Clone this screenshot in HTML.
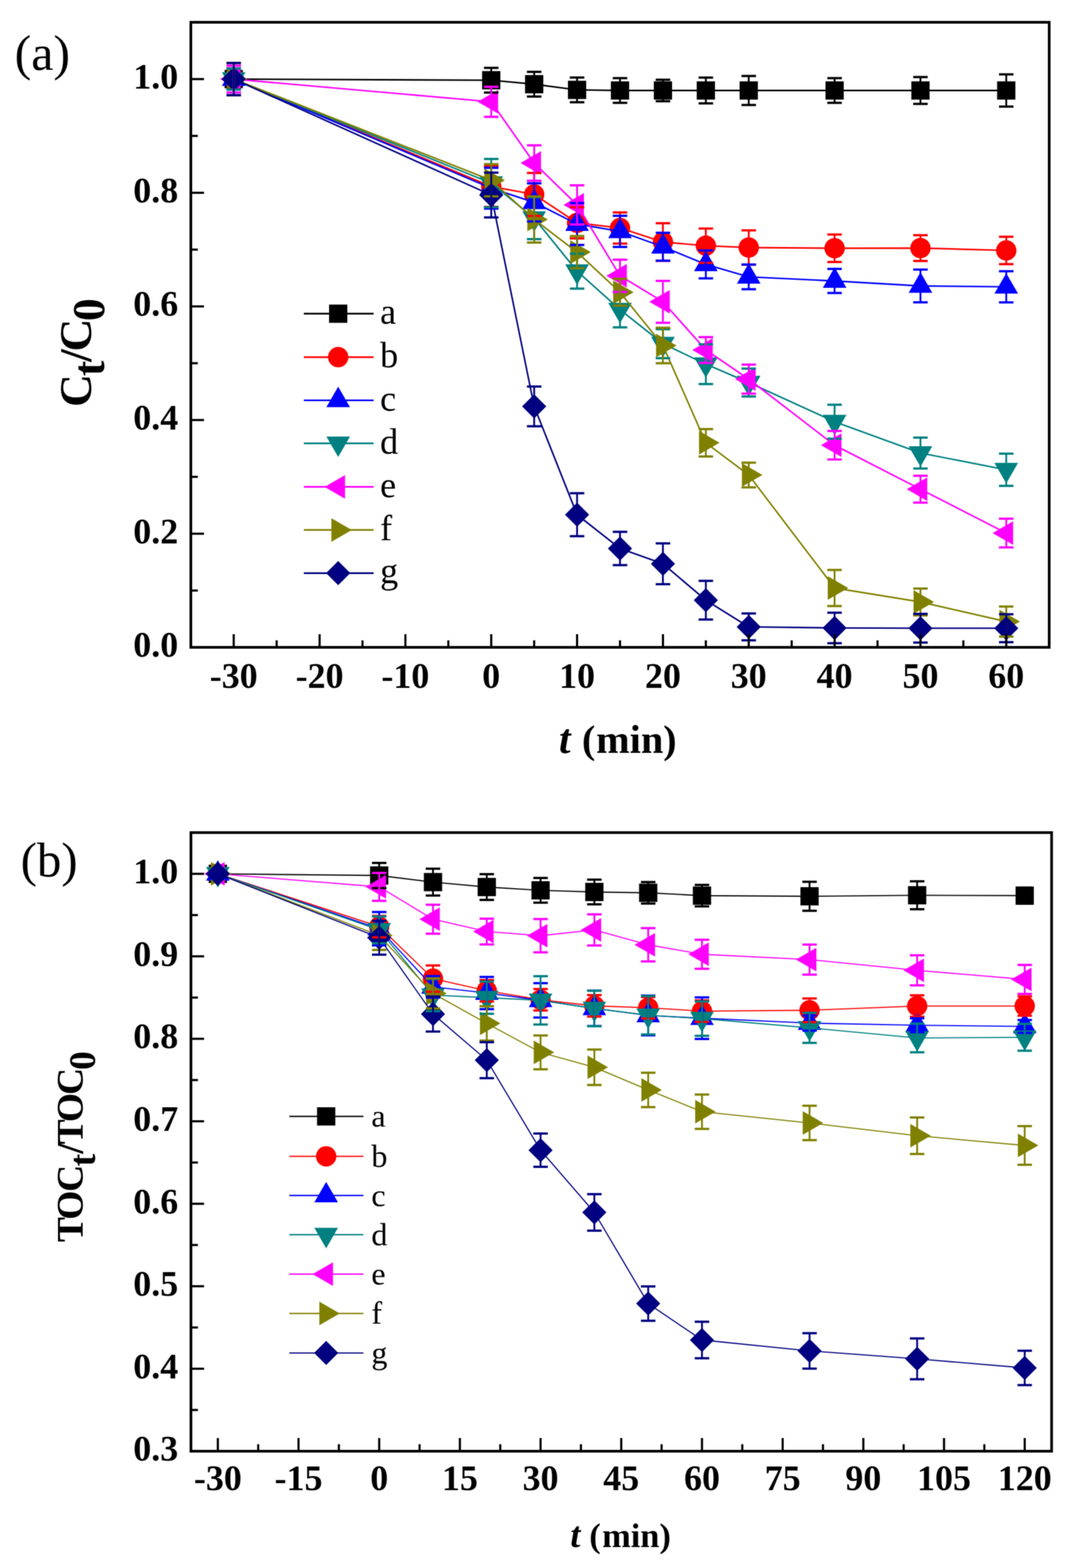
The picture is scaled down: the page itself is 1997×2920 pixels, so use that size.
<!DOCTYPE html>
<html><head><meta charset="utf-8"><title>Ct/C0 and TOCt/TOC0 vs time</title>
<style>
html,body{margin:0;padding:0;background:#fff;}
body{width:1997px;height:2920px;overflow:hidden;}
svg{display:block;}
.tk{font-family:"Liberation Serif","Times New Roman",serif;font-weight:bold;font-size:67px;fill:#000;}
.ax{font-family:"Liberation Serif","Times New Roman",serif;font-weight:bold;fill:#000;}
.lg{font-family:"Liberation Serif","Times New Roman",serif;fill:#000;}
.pl{font-family:"Liberation Serif","Times New Roman",serif;fill:#000;}
</style></head>
<body>
<svg width="1997" height="2920" viewBox="0 0 1997 2920">
<defs><filter id="soft" x="0" y="0" width="1997" height="2920" filterUnits="userSpaceOnUse" color-interpolation-filters="sRGB"><feConvolveMatrix order="3" kernelMatrix="1 2 1 2 4 2 1 2 1" divisor="16" edgeMode="duplicate"/></filter></defs>
<rect width="1997" height="2920" fill="#fff"/>
<g filter="url(#soft)">
<rect width="1997" height="2920" fill="#fff"/>
<g id="pa">
<polyline points="435.4,147.3 915.1,149.4 995.1,156.8 1075.0,167.4 1155.0,168.5 1235.0,168.5 1314.9,168.5 1394.8,168.5 1554.8,168.5 1714.7,168.5 1874.5,168.5" fill="none" stroke="#000000" stroke-width="2.9" stroke-linejoin="round"/>
<rect x="418.4" y="130.3" width="34.0" height="34.0" fill="#000000"/>
<rect x="898.1" y="132.4" width="34.0" height="34.0" fill="#000000"/>
<rect x="978.1" y="139.8" width="34.0" height="34.0" fill="#000000"/>
<rect x="1058.0" y="150.4" width="34.0" height="34.0" fill="#000000"/>
<rect x="1138.0" y="151.5" width="34.0" height="34.0" fill="#000000"/>
<rect x="1218.0" y="151.5" width="34.0" height="34.0" fill="#000000"/>
<rect x="1297.9" y="151.5" width="34.0" height="34.0" fill="#000000"/>
<rect x="1377.8" y="151.5" width="34.0" height="34.0" fill="#000000"/>
<rect x="1537.8" y="151.5" width="34.0" height="34.0" fill="#000000"/>
<rect x="1697.7" y="151.5" width="34.0" height="34.0" fill="#000000"/>
<rect x="1857.5" y="151.5" width="34.0" height="34.0" fill="#000000"/>
<polyline points="435.4,147.3 915.1,347.3 995.1,362.1 1075.0,415.0 1155.0,424.6 1235.0,450.7 1314.9,457.6 1394.8,461.0 1554.8,462.3 1714.7,462.0 1874.5,466.4" fill="none" stroke="#ff0000" stroke-width="2.9" stroke-linejoin="round"/>
<circle cx="435.4" cy="147.3" r="19.0" fill="#ff0000"/>
<circle cx="915.1" cy="347.3" r="19.0" fill="#ff0000"/>
<circle cx="995.1" cy="362.1" r="19.0" fill="#ff0000"/>
<circle cx="1075.0" cy="415.0" r="19.0" fill="#ff0000"/>
<circle cx="1155.0" cy="424.6" r="19.0" fill="#ff0000"/>
<circle cx="1235.0" cy="450.7" r="19.0" fill="#ff0000"/>
<circle cx="1314.9" cy="457.6" r="19.0" fill="#ff0000"/>
<circle cx="1394.8" cy="461.0" r="19.0" fill="#ff0000"/>
<circle cx="1554.8" cy="462.3" r="19.0" fill="#ff0000"/>
<circle cx="1714.7" cy="462.0" r="19.0" fill="#ff0000"/>
<circle cx="1874.5" cy="466.4" r="19.0" fill="#ff0000"/>
<polyline points="435.4,147.3 915.1,350.5 995.1,376.9 1075.0,417.2 1155.0,430.9 1235.0,459.5 1314.9,492.4 1394.8,515.6 1554.8,523.2 1714.7,532.5 1874.5,534.1" fill="none" stroke="#0000ff" stroke-width="2.9" stroke-linejoin="round"/>
<polygon points="435.4,121.9 413.4,160.0 457.4,160.0" fill="#0000ff"/>
<polygon points="915.1,325.1 893.1,363.2 937.1,363.2" fill="#0000ff"/>
<polygon points="995.1,351.5 973.1,389.6 1017.1,389.6" fill="#0000ff"/>
<polygon points="1075.0,391.8 1053.0,429.9 1097.0,429.9" fill="#0000ff"/>
<polygon points="1155.0,405.5 1133.0,443.6 1177.0,443.6" fill="#0000ff"/>
<polygon points="1235.0,434.1 1213.0,472.2 1257.0,472.2" fill="#0000ff"/>
<polygon points="1314.9,467.0 1292.9,505.1 1336.9,505.1" fill="#0000ff"/>
<polygon points="1394.8,490.2 1372.8,528.3 1416.8,528.3" fill="#0000ff"/>
<polygon points="1554.8,497.8 1532.8,535.9 1576.8,535.9" fill="#0000ff"/>
<polygon points="1714.7,507.1 1692.7,545.2 1736.7,545.2" fill="#0000ff"/>
<polygon points="1874.5,508.7 1852.5,546.8 1896.5,546.8" fill="#0000ff"/>
<polyline points="435.4,147.3 915.1,341.0 995.1,406.3 1075.0,505.0 1155.0,576.6 1235.0,640.0 1314.9,678.2 1394.8,712.4 1554.8,785.3 1714.7,843.7 1874.5,874.8" fill="none" stroke="#008080" stroke-width="2.9" stroke-linejoin="round"/>
<polygon points="435.4,172.7 413.4,134.6 457.4,134.6" fill="#008080"/>
<polygon points="915.1,366.4 893.1,328.3 937.1,328.3" fill="#008080"/>
<polygon points="995.1,431.7 973.1,393.6 1017.1,393.6" fill="#008080"/>
<polygon points="1075.0,530.4 1053.0,492.3 1097.0,492.3" fill="#008080"/>
<polygon points="1155.0,602.0 1133.0,563.9 1177.0,563.9" fill="#008080"/>
<polygon points="1235.0,665.4 1213.0,627.3 1257.0,627.3" fill="#008080"/>
<polygon points="1314.9,703.6 1292.9,665.5 1336.9,665.5" fill="#008080"/>
<polygon points="1394.8,737.8 1372.8,699.7 1416.8,699.7" fill="#008080"/>
<polygon points="1554.8,810.7 1532.8,772.6 1576.8,772.6" fill="#008080"/>
<polygon points="1714.7,869.1 1692.7,831.0 1736.7,831.0" fill="#008080"/>
<polygon points="1874.5,900.2 1852.5,862.1 1896.5,862.1" fill="#008080"/>
<polyline points="435.4,147.3 915.1,189.6 995.1,303.6 1075.0,381.6 1155.0,513.6 1235.0,562.1 1314.9,651.8 1394.8,706.0 1554.8,829.1 1714.7,911.0 1874.5,992.7" fill="none" stroke="#ff00ff" stroke-width="2.9" stroke-linejoin="round"/>
<polygon points="410.0,147.3 448.2,125.3 448.2,169.3" fill="#ff00ff"/>
<polygon points="889.7,189.6 927.9,167.6 927.9,211.6" fill="#ff00ff"/>
<polygon points="969.7,303.6 1007.8,281.6 1007.8,325.6" fill="#ff00ff"/>
<polygon points="1049.6,381.6 1087.8,359.6 1087.8,403.6" fill="#ff00ff"/>
<polygon points="1129.6,513.6 1167.7,491.6 1167.7,535.6" fill="#ff00ff"/>
<polygon points="1209.5,562.1 1247.7,540.1 1247.7,584.1" fill="#ff00ff"/>
<polygon points="1289.5,651.8 1327.6,629.8 1327.6,673.8" fill="#ff00ff"/>
<polygon points="1369.4,706.0 1407.6,684.0 1407.6,728.0" fill="#ff00ff"/>
<polygon points="1529.3,829.1 1567.5,807.1 1567.5,851.1" fill="#ff00ff"/>
<polygon points="1689.2,911.0 1727.4,889.0 1727.4,933.0" fill="#ff00ff"/>
<polygon points="1849.1,992.7 1887.3,970.7 1887.3,1014.7" fill="#ff00ff"/>
<polyline points="435.4,147.3 915.1,335.7 995.1,408.7 1075.0,469.6 1155.0,544.3 1235.0,643.4 1314.9,824.6 1394.8,884.6 1554.8,1095.0 1714.7,1121.0 1874.5,1157.5" fill="none" stroke="#808000" stroke-width="2.9" stroke-linejoin="round"/>
<polygon points="460.9,147.3 422.7,125.3 422.7,169.3" fill="#808000"/>
<polygon points="940.6,335.7 902.4,313.7 902.4,357.7" fill="#808000"/>
<polygon points="1020.5,408.7 982.4,386.7 982.4,430.7" fill="#808000"/>
<polygon points="1100.5,469.6 1062.3,447.6 1062.3,491.6" fill="#808000"/>
<polygon points="1180.4,544.3 1142.3,522.3 1142.3,566.3" fill="#808000"/>
<polygon points="1260.4,643.4 1222.2,621.4 1222.2,665.4" fill="#808000"/>
<polygon points="1340.3,824.6 1302.2,802.6 1302.2,846.6" fill="#808000"/>
<polygon points="1420.3,884.6 1382.1,862.6 1382.1,906.6" fill="#808000"/>
<polygon points="1580.2,1095.0 1542.0,1073.0 1542.0,1117.0" fill="#808000"/>
<polygon points="1740.1,1121.0 1701.9,1099.0 1701.9,1143.0" fill="#808000"/>
<polygon points="1900.0,1157.5 1861.8,1135.5 1861.8,1179.5" fill="#808000"/>
<polyline points="435.4,147.3 915.1,363.2 995.1,756.8 1075.0,958.5 1155.0,1021.4 1235.0,1049.9 1314.9,1117.7 1394.8,1167.4 1554.8,1169.4 1714.7,1169.9 1874.5,1169.9" fill="none" stroke="#000080" stroke-width="2.9" stroke-linejoin="round"/>
<polygon points="435.4,124.8 457.9,147.3 435.4,169.8 412.9,147.3" fill="#000080"/>
<polygon points="915.1,340.7 937.6,363.2 915.1,385.7 892.6,363.2" fill="#000080"/>
<polygon points="995.1,734.3 1017.6,756.8 995.1,779.3 972.6,756.8" fill="#000080"/>
<polygon points="1075.0,936.0 1097.5,958.5 1075.0,981.0 1052.5,958.5" fill="#000080"/>
<polygon points="1155.0,998.9 1177.5,1021.4 1155.0,1043.9 1132.5,1021.4" fill="#000080"/>
<polygon points="1235.0,1027.4 1257.5,1049.9 1235.0,1072.4 1212.5,1049.9" fill="#000080"/>
<polygon points="1314.9,1095.2 1337.4,1117.7 1314.9,1140.2 1292.4,1117.7" fill="#000080"/>
<polygon points="1394.8,1144.9 1417.3,1167.4 1394.8,1189.9 1372.3,1167.4" fill="#000080"/>
<polygon points="1554.8,1146.9 1577.2,1169.4 1554.8,1191.9 1532.2,1169.4" fill="#000080"/>
<polygon points="1714.7,1147.4 1737.2,1169.9 1714.7,1192.4 1692.2,1169.9" fill="#000080"/>
<polygon points="1874.5,1147.4 1897.0,1169.9 1874.5,1192.4 1852.0,1169.9" fill="#000080"/>
<rect x="433.8" y="127.8" width="3.4" height="39.0" fill="#000000"/><rect x="421.9" y="125.7" width="27.0" height="4.2" fill="#000000"/><rect x="421.9" y="164.7" width="27.0" height="4.2" fill="#000000"/>
<rect x="913.4" y="126.4" width="3.4" height="46.0" fill="#000000"/><rect x="901.6" y="124.3" width="27.0" height="4.2" fill="#000000"/><rect x="901.6" y="170.3" width="27.0" height="4.2" fill="#000000"/>
<rect x="993.4" y="133.8" width="3.4" height="46.0" fill="#000000"/><rect x="981.6" y="131.7" width="27.0" height="4.2" fill="#000000"/><rect x="981.6" y="177.7" width="27.0" height="4.2" fill="#000000"/>
<rect x="1073.3" y="144.4" width="3.4" height="46.0" fill="#000000"/><rect x="1061.5" y="142.3" width="27.0" height="4.2" fill="#000000"/><rect x="1061.5" y="188.3" width="27.0" height="4.2" fill="#000000"/>
<rect x="1153.3" y="145.5" width="3.4" height="46.0" fill="#000000"/><rect x="1141.5" y="143.4" width="27.0" height="4.2" fill="#000000"/><rect x="1141.5" y="189.4" width="27.0" height="4.2" fill="#000000"/>
<rect x="1233.2" y="148.5" width="3.4" height="40.0" fill="#000000"/><rect x="1221.5" y="146.4" width="27.0" height="4.2" fill="#000000"/><rect x="1221.5" y="186.4" width="27.0" height="4.2" fill="#000000"/>
<rect x="1313.2" y="144.5" width="3.4" height="48.0" fill="#000000"/><rect x="1301.4" y="142.4" width="27.0" height="4.2" fill="#000000"/><rect x="1301.4" y="190.4" width="27.0" height="4.2" fill="#000000"/>
<rect x="1393.1" y="141.5" width="3.4" height="54.0" fill="#000000"/><rect x="1381.3" y="139.4" width="27.0" height="4.2" fill="#000000"/><rect x="1381.3" y="193.4" width="27.0" height="4.2" fill="#000000"/>
<rect x="1553.0" y="145.5" width="3.4" height="46.0" fill="#000000"/><rect x="1541.2" y="143.4" width="27.0" height="4.2" fill="#000000"/><rect x="1541.2" y="189.4" width="27.0" height="4.2" fill="#000000"/>
<rect x="1713.0" y="143.5" width="3.4" height="50.0" fill="#000000"/><rect x="1701.2" y="141.4" width="27.0" height="4.2" fill="#000000"/><rect x="1701.2" y="191.4" width="27.0" height="4.2" fill="#000000"/>
<rect x="1872.8" y="138.5" width="3.4" height="60.0" fill="#000000"/><rect x="1861.0" y="136.4" width="27.0" height="4.2" fill="#000000"/><rect x="1861.0" y="196.4" width="27.0" height="4.2" fill="#000000"/>
<rect x="433.8" y="127.8" width="3.4" height="39.0" fill="#ff0000"/><rect x="421.9" y="125.7" width="27.0" height="4.2" fill="#ff0000"/><rect x="421.9" y="164.7" width="27.0" height="4.2" fill="#ff0000"/>
<rect x="913.4" y="309.3" width="3.4" height="76.0" fill="#ff0000"/><rect x="901.6" y="307.2" width="27.0" height="4.2" fill="#ff0000"/><rect x="901.6" y="383.2" width="27.0" height="4.2" fill="#ff0000"/>
<rect x="993.4" y="322.1" width="3.4" height="80.0" fill="#ff0000"/><rect x="981.6" y="320.0" width="27.0" height="4.2" fill="#ff0000"/><rect x="981.6" y="400.0" width="27.0" height="4.2" fill="#ff0000"/>
<rect x="1073.3" y="386.0" width="3.4" height="58.0" fill="#ff0000"/><rect x="1061.5" y="383.9" width="27.0" height="4.2" fill="#ff0000"/><rect x="1061.5" y="441.9" width="27.0" height="4.2" fill="#ff0000"/>
<rect x="1153.3" y="395.6" width="3.4" height="58.0" fill="#ff0000"/><rect x="1141.5" y="393.5" width="27.0" height="4.2" fill="#ff0000"/><rect x="1141.5" y="451.5" width="27.0" height="4.2" fill="#ff0000"/>
<rect x="1233.2" y="415.7" width="3.4" height="70.0" fill="#ff0000"/><rect x="1221.5" y="413.6" width="27.0" height="4.2" fill="#ff0000"/><rect x="1221.5" y="483.6" width="27.0" height="4.2" fill="#ff0000"/>
<rect x="1313.2" y="425.6" width="3.4" height="64.0" fill="#ff0000"/><rect x="1301.4" y="423.5" width="27.0" height="4.2" fill="#ff0000"/><rect x="1301.4" y="487.5" width="27.0" height="4.2" fill="#ff0000"/>
<rect x="1393.1" y="429.0" width="3.4" height="64.0" fill="#ff0000"/><rect x="1381.3" y="426.9" width="27.0" height="4.2" fill="#ff0000"/><rect x="1381.3" y="490.9" width="27.0" height="4.2" fill="#ff0000"/>
<rect x="1553.0" y="436.7" width="3.4" height="51.2" fill="#ff0000"/><rect x="1541.2" y="434.6" width="27.0" height="4.2" fill="#ff0000"/><rect x="1541.2" y="485.8" width="27.0" height="4.2" fill="#ff0000"/>
<rect x="1713.0" y="438.0" width="3.4" height="48.0" fill="#ff0000"/><rect x="1701.2" y="435.9" width="27.0" height="4.2" fill="#ff0000"/><rect x="1701.2" y="483.9" width="27.0" height="4.2" fill="#ff0000"/>
<rect x="1872.8" y="440.9" width="3.4" height="51.0" fill="#ff0000"/><rect x="1861.0" y="438.8" width="27.0" height="4.2" fill="#ff0000"/><rect x="1861.0" y="489.8" width="27.0" height="4.2" fill="#ff0000"/>
<rect x="433.8" y="127.8" width="3.4" height="39.0" fill="#0000ff"/><rect x="421.9" y="125.7" width="27.0" height="4.2" fill="#0000ff"/><rect x="421.9" y="164.7" width="27.0" height="4.2" fill="#0000ff"/>
<rect x="913.4" y="312.5" width="3.4" height="76.0" fill="#0000ff"/><rect x="901.6" y="310.4" width="27.0" height="4.2" fill="#0000ff"/><rect x="901.6" y="386.4" width="27.0" height="4.2" fill="#0000ff"/>
<rect x="993.4" y="341.4" width="3.4" height="71.0" fill="#0000ff"/><rect x="981.6" y="339.3" width="27.0" height="4.2" fill="#0000ff"/><rect x="981.6" y="410.3" width="27.0" height="4.2" fill="#0000ff"/>
<rect x="1073.3" y="378.2" width="3.4" height="78.0" fill="#0000ff"/><rect x="1061.5" y="376.1" width="27.0" height="4.2" fill="#0000ff"/><rect x="1061.5" y="454.1" width="27.0" height="4.2" fill="#0000ff"/>
<rect x="1153.3" y="401.9" width="3.4" height="58.0" fill="#0000ff"/><rect x="1141.5" y="399.8" width="27.0" height="4.2" fill="#0000ff"/><rect x="1141.5" y="457.8" width="27.0" height="4.2" fill="#0000ff"/>
<rect x="1233.2" y="433.5" width="3.4" height="52.0" fill="#0000ff"/><rect x="1221.5" y="431.4" width="27.0" height="4.2" fill="#0000ff"/><rect x="1221.5" y="483.4" width="27.0" height="4.2" fill="#0000ff"/>
<rect x="1313.2" y="466.4" width="3.4" height="52.0" fill="#0000ff"/><rect x="1301.4" y="464.3" width="27.0" height="4.2" fill="#0000ff"/><rect x="1301.4" y="516.3" width="27.0" height="4.2" fill="#0000ff"/>
<rect x="1393.1" y="492.6" width="3.4" height="46.0" fill="#0000ff"/><rect x="1381.3" y="490.5" width="27.0" height="4.2" fill="#0000ff"/><rect x="1381.3" y="536.5" width="27.0" height="4.2" fill="#0000ff"/>
<rect x="1553.0" y="500.8" width="3.4" height="44.8" fill="#0000ff"/><rect x="1541.2" y="498.7" width="27.0" height="4.2" fill="#0000ff"/><rect x="1541.2" y="543.5" width="27.0" height="4.2" fill="#0000ff"/>
<rect x="1713.0" y="502.0" width="3.4" height="61.0" fill="#0000ff"/><rect x="1701.2" y="499.9" width="27.0" height="4.2" fill="#0000ff"/><rect x="1701.2" y="560.9" width="27.0" height="4.2" fill="#0000ff"/>
<rect x="1872.8" y="505.1" width="3.4" height="58.0" fill="#0000ff"/><rect x="1861.0" y="503.0" width="27.0" height="4.2" fill="#0000ff"/><rect x="1861.0" y="561.0" width="27.0" height="4.2" fill="#0000ff"/>
<rect x="433.8" y="127.8" width="3.4" height="39.0" fill="#008080"/><rect x="421.9" y="125.7" width="27.0" height="4.2" fill="#008080"/><rect x="421.9" y="164.7" width="27.0" height="4.2" fill="#008080"/>
<rect x="913.4" y="296.0" width="3.4" height="90.0" fill="#008080"/><rect x="901.6" y="293.9" width="27.0" height="4.2" fill="#008080"/><rect x="901.6" y="383.9" width="27.0" height="4.2" fill="#008080"/>
<rect x="993.4" y="367.3" width="3.4" height="78.0" fill="#008080"/><rect x="981.6" y="365.2" width="27.0" height="4.2" fill="#008080"/><rect x="981.6" y="443.2" width="27.0" height="4.2" fill="#008080"/>
<rect x="1073.3" y="472.5" width="3.4" height="65.0" fill="#008080"/><rect x="1061.5" y="470.4" width="27.0" height="4.2" fill="#008080"/><rect x="1061.5" y="535.4" width="27.0" height="4.2" fill="#008080"/>
<rect x="1153.3" y="543.6" width="3.4" height="66.0" fill="#008080"/><rect x="1141.5" y="541.5" width="27.0" height="4.2" fill="#008080"/><rect x="1141.5" y="607.5" width="27.0" height="4.2" fill="#008080"/>
<rect x="1233.2" y="613.0" width="3.4" height="54.0" fill="#008080"/><rect x="1221.5" y="610.9" width="27.0" height="4.2" fill="#008080"/><rect x="1221.5" y="664.9" width="27.0" height="4.2" fill="#008080"/>
<rect x="1313.2" y="641.2" width="3.4" height="74.0" fill="#008080"/><rect x="1301.4" y="639.1" width="27.0" height="4.2" fill="#008080"/><rect x="1301.4" y="713.1" width="27.0" height="4.2" fill="#008080"/>
<rect x="1393.1" y="686.4" width="3.4" height="52.0" fill="#008080"/><rect x="1381.3" y="684.3" width="27.0" height="4.2" fill="#008080"/><rect x="1381.3" y="736.3" width="27.0" height="4.2" fill="#008080"/>
<rect x="1553.0" y="753.7" width="3.4" height="63.2" fill="#008080"/><rect x="1541.2" y="751.6" width="27.0" height="4.2" fill="#008080"/><rect x="1541.2" y="814.8" width="27.0" height="4.2" fill="#008080"/>
<rect x="1713.0" y="814.9" width="3.4" height="57.6" fill="#008080"/><rect x="1701.2" y="812.8" width="27.0" height="4.2" fill="#008080"/><rect x="1701.2" y="870.4" width="27.0" height="4.2" fill="#008080"/>
<rect x="1872.8" y="844.8" width="3.4" height="60.0" fill="#008080"/><rect x="1861.0" y="842.7" width="27.0" height="4.2" fill="#008080"/><rect x="1861.0" y="902.7" width="27.0" height="4.2" fill="#008080"/>
<rect x="433.8" y="122.3" width="3.4" height="50.0" fill="#ff00ff"/><rect x="421.9" y="120.2" width="27.0" height="4.2" fill="#ff00ff"/><rect x="421.9" y="170.2" width="27.0" height="4.2" fill="#ff00ff"/>
<rect x="913.4" y="161.6" width="3.4" height="56.0" fill="#ff00ff"/><rect x="901.6" y="159.5" width="27.0" height="4.2" fill="#ff00ff"/><rect x="901.6" y="215.5" width="27.0" height="4.2" fill="#ff00ff"/>
<rect x="993.4" y="270.6" width="3.4" height="66.0" fill="#ff00ff"/><rect x="981.6" y="268.5" width="27.0" height="4.2" fill="#ff00ff"/><rect x="981.6" y="334.5" width="27.0" height="4.2" fill="#ff00ff"/>
<rect x="1073.3" y="345.1" width="3.4" height="73.0" fill="#ff00ff"/><rect x="1061.5" y="343.0" width="27.0" height="4.2" fill="#ff00ff"/><rect x="1061.5" y="416.0" width="27.0" height="4.2" fill="#ff00ff"/>
<rect x="1153.3" y="483.6" width="3.4" height="60.0" fill="#ff00ff"/><rect x="1141.5" y="481.5" width="27.0" height="4.2" fill="#ff00ff"/><rect x="1141.5" y="541.5" width="27.0" height="4.2" fill="#ff00ff"/>
<rect x="1233.2" y="523.1" width="3.4" height="78.0" fill="#ff00ff"/><rect x="1221.5" y="521.0" width="27.0" height="4.2" fill="#ff00ff"/><rect x="1221.5" y="599.0" width="27.0" height="4.2" fill="#ff00ff"/>
<rect x="1313.2" y="627.8" width="3.4" height="48.0" fill="#ff00ff"/><rect x="1301.4" y="625.7" width="27.0" height="4.2" fill="#ff00ff"/><rect x="1301.4" y="673.7" width="27.0" height="4.2" fill="#ff00ff"/>
<rect x="1393.1" y="679.0" width="3.4" height="54.0" fill="#ff00ff"/><rect x="1381.3" y="676.9" width="27.0" height="4.2" fill="#ff00ff"/><rect x="1381.3" y="730.9" width="27.0" height="4.2" fill="#ff00ff"/>
<rect x="1553.0" y="802.6" width="3.4" height="53.0" fill="#ff00ff"/><rect x="1541.2" y="800.5" width="27.0" height="4.2" fill="#ff00ff"/><rect x="1541.2" y="853.5" width="27.0" height="4.2" fill="#ff00ff"/>
<rect x="1713.0" y="886.0" width="3.4" height="50.0" fill="#ff00ff"/><rect x="1701.2" y="883.9" width="27.0" height="4.2" fill="#ff00ff"/><rect x="1701.2" y="933.9" width="27.0" height="4.2" fill="#ff00ff"/>
<rect x="1872.8" y="966.0" width="3.4" height="53.4" fill="#ff00ff"/><rect x="1861.0" y="963.9" width="27.0" height="4.2" fill="#ff00ff"/><rect x="1861.0" y="1017.3" width="27.0" height="4.2" fill="#ff00ff"/>
<rect x="433.8" y="117.3" width="3.4" height="60.0" fill="#808000"/><rect x="421.9" y="115.2" width="27.0" height="4.2" fill="#808000"/><rect x="421.9" y="175.2" width="27.0" height="4.2" fill="#808000"/>
<rect x="913.4" y="305.7" width="3.4" height="60.0" fill="#808000"/><rect x="901.6" y="303.6" width="27.0" height="4.2" fill="#808000"/><rect x="901.6" y="363.6" width="27.0" height="4.2" fill="#808000"/>
<rect x="993.4" y="365.7" width="3.4" height="86.0" fill="#808000"/><rect x="981.6" y="363.6" width="27.0" height="4.2" fill="#808000"/><rect x="981.6" y="449.6" width="27.0" height="4.2" fill="#808000"/>
<rect x="1073.3" y="439.6" width="3.4" height="60.0" fill="#808000"/><rect x="1061.5" y="437.5" width="27.0" height="4.2" fill="#808000"/><rect x="1061.5" y="497.5" width="27.0" height="4.2" fill="#808000"/>
<rect x="1153.3" y="519.3" width="3.4" height="50.0" fill="#808000"/><rect x="1141.5" y="517.2" width="27.0" height="4.2" fill="#808000"/><rect x="1141.5" y="567.2" width="27.0" height="4.2" fill="#808000"/>
<rect x="1233.2" y="610.4" width="3.4" height="66.0" fill="#808000"/><rect x="1221.5" y="608.3" width="27.0" height="4.2" fill="#808000"/><rect x="1221.5" y="674.3" width="27.0" height="4.2" fill="#808000"/>
<rect x="1313.2" y="799.1" width="3.4" height="51.0" fill="#808000"/><rect x="1301.4" y="797.0" width="27.0" height="4.2" fill="#808000"/><rect x="1301.4" y="848.0" width="27.0" height="4.2" fill="#808000"/>
<rect x="1393.1" y="861.6" width="3.4" height="46.0" fill="#808000"/><rect x="1381.3" y="859.5" width="27.0" height="4.2" fill="#808000"/><rect x="1381.3" y="905.5" width="27.0" height="4.2" fill="#808000"/>
<rect x="1553.0" y="1061.4" width="3.4" height="67.2" fill="#808000"/><rect x="1541.2" y="1059.3" width="27.0" height="4.2" fill="#808000"/><rect x="1541.2" y="1126.5" width="27.0" height="4.2" fill="#808000"/>
<rect x="1713.0" y="1096.0" width="3.4" height="50.0" fill="#808000"/><rect x="1701.2" y="1093.9" width="27.0" height="4.2" fill="#808000"/><rect x="1701.2" y="1143.9" width="27.0" height="4.2" fill="#808000"/>
<rect x="1872.8" y="1129.5" width="3.4" height="56.0" fill="#808000"/><rect x="1861.0" y="1127.4" width="27.0" height="4.2" fill="#808000"/><rect x="1861.0" y="1183.4" width="27.0" height="4.2" fill="#808000"/>
<rect x="433.8" y="117.3" width="3.4" height="60.0" fill="#000080"/><rect x="421.9" y="115.2" width="27.0" height="4.2" fill="#000080"/><rect x="421.9" y="175.2" width="27.0" height="4.2" fill="#000080"/>
<rect x="913.4" y="321.5" width="3.4" height="83.4" fill="#000080"/><rect x="901.6" y="319.4" width="27.0" height="4.2" fill="#000080"/><rect x="901.6" y="402.8" width="27.0" height="4.2" fill="#000080"/>
<rect x="993.4" y="719.8" width="3.4" height="74.0" fill="#000080"/><rect x="981.6" y="717.7" width="27.0" height="4.2" fill="#000080"/><rect x="981.6" y="791.7" width="27.0" height="4.2" fill="#000080"/>
<rect x="1073.3" y="918.5" width="3.4" height="80.0" fill="#000080"/><rect x="1061.5" y="916.4" width="27.0" height="4.2" fill="#000080"/><rect x="1061.5" y="996.4" width="27.0" height="4.2" fill="#000080"/>
<rect x="1153.3" y="990.4" width="3.4" height="62.0" fill="#000080"/><rect x="1141.5" y="988.3" width="27.0" height="4.2" fill="#000080"/><rect x="1141.5" y="1050.3" width="27.0" height="4.2" fill="#000080"/>
<rect x="1233.2" y="1011.9" width="3.4" height="76.0" fill="#000080"/><rect x="1221.5" y="1009.8" width="27.0" height="4.2" fill="#000080"/><rect x="1221.5" y="1085.8" width="27.0" height="4.2" fill="#000080"/>
<rect x="1313.2" y="1081.7" width="3.4" height="72.0" fill="#000080"/><rect x="1301.4" y="1079.6" width="27.0" height="4.2" fill="#000080"/><rect x="1301.4" y="1151.6" width="27.0" height="4.2" fill="#000080"/>
<rect x="1393.1" y="1142.4" width="3.4" height="50.0" fill="#000080"/><rect x="1381.3" y="1140.3" width="27.0" height="4.2" fill="#000080"/><rect x="1381.3" y="1190.3" width="27.0" height="4.2" fill="#000080"/>
<rect x="1553.0" y="1141.0" width="3.4" height="56.8" fill="#000080"/><rect x="1541.2" y="1138.9" width="27.0" height="4.2" fill="#000080"/><rect x="1541.2" y="1195.7" width="27.0" height="4.2" fill="#000080"/>
<rect x="1713.0" y="1143.2" width="3.4" height="53.4" fill="#000080"/><rect x="1701.2" y="1141.1" width="27.0" height="4.2" fill="#000080"/><rect x="1701.2" y="1194.5" width="27.0" height="4.2" fill="#000080"/>
<rect x="1872.8" y="1143.9" width="3.4" height="52.0" fill="#000080"/><rect x="1861.0" y="1141.8" width="27.0" height="4.2" fill="#000080"/><rect x="1861.0" y="1193.8" width="27.0" height="4.2" fill="#000080"/>
<rect x="355.5" y="41.5" width="1599.0" height="1164.0" fill="none" stroke="#000" stroke-width="5.0"/>
<rect x="433.4" y="1181.0" width="4.0" height="24.5" fill="#000"/><rect x="593.4" y="1181.0" width="4.0" height="24.5" fill="#000"/><rect x="753.2" y="1181.0" width="4.0" height="24.5" fill="#000"/><rect x="913.1" y="1181.0" width="4.0" height="24.5" fill="#000"/><rect x="1073.0" y="1181.0" width="4.0" height="24.5" fill="#000"/><rect x="1233.0" y="1181.0" width="4.0" height="24.5" fill="#000"/><rect x="1392.8" y="1181.0" width="4.0" height="24.5" fill="#000"/><rect x="1552.8" y="1181.0" width="4.0" height="24.5" fill="#000"/><rect x="1712.7" y="1181.0" width="4.0" height="24.5" fill="#000"/><rect x="1872.5" y="1181.0" width="4.0" height="24.5" fill="#000"/><rect x="513.4" y="1192.5" width="4.0" height="13" fill="#000"/><rect x="673.3" y="1192.5" width="4.0" height="13" fill="#000"/><rect x="833.2" y="1192.5" width="4.0" height="13" fill="#000"/><rect x="993.1" y="1192.5" width="4.0" height="13" fill="#000"/><rect x="1153.0" y="1192.5" width="4.0" height="13" fill="#000"/><rect x="1312.9" y="1192.5" width="4.0" height="13" fill="#000"/><rect x="1472.8" y="1192.5" width="4.0" height="13" fill="#000"/><rect x="1632.7" y="1192.5" width="4.0" height="13" fill="#000"/><rect x="1792.6" y="1192.5" width="4.0" height="13" fill="#000"/>
<rect x="355.5" y="1203.5" width="24.5" height="4.0" fill="#000"/><rect x="355.5" y="991.9" width="24.5" height="4.0" fill="#000"/><rect x="355.5" y="780.2" width="24.5" height="4.0" fill="#000"/><rect x="355.5" y="568.6" width="24.5" height="4.0" fill="#000"/><rect x="355.5" y="357.0" width="24.5" height="4.0" fill="#000"/><rect x="355.5" y="145.3" width="24.5" height="4.0" fill="#000"/><rect x="355.5" y="1097.7" width="13" height="4.0" fill="#000"/><rect x="355.5" y="886.0" width="13" height="4.0" fill="#000"/><rect x="355.5" y="674.4" width="13" height="4.0" fill="#000"/><rect x="355.5" y="462.8" width="13" height="4.0" fill="#000"/><rect x="355.5" y="251.1" width="13" height="4.0" fill="#000"/>
<text x="435.4" y="1280.7" class="tk" text-anchor="middle">-30</text>
<text x="595.4" y="1280.7" class="tk" text-anchor="middle">-20</text>
<text x="755.2" y="1280.7" class="tk" text-anchor="middle">-10</text>
<text x="915.1" y="1280.7" class="tk" text-anchor="middle">0</text>
<text x="1075.0" y="1280.7" class="tk" text-anchor="middle">10</text>
<text x="1235.0" y="1280.7" class="tk" text-anchor="middle">20</text>
<text x="1394.8" y="1280.7" class="tk" text-anchor="middle">30</text>
<text x="1554.8" y="1280.7" class="tk" text-anchor="middle">40</text>
<text x="1714.7" y="1280.7" class="tk" text-anchor="middle">50</text>
<text x="1874.5" y="1280.7" class="tk" text-anchor="middle">60</text>
<text x="332" y="1223.1" class="tk" text-anchor="end">0.0</text>
<text x="332" y="1011.5" class="tk" text-anchor="end">0.2</text>
<text x="332" y="799.8" class="tk" text-anchor="end">0.4</text>
<text x="332" y="588.2" class="tk" text-anchor="end">0.6</text>
<text x="332" y="376.6" class="tk" text-anchor="end">0.8</text>
<text x="332" y="164.9" class="tk" text-anchor="end">1.0</text>
<line x1="566" y1="584.2" x2="696" y2="584.2" stroke="#000000" stroke-width="3.2"/>
<rect x="613.0" y="567.2" width="34.0" height="34.0" fill="#000000"/>
<text x="708" y="603.2" class="lg" font-size="67.5">a</text>
<line x1="566" y1="665.1" x2="696" y2="665.1" stroke="#ff0000" stroke-width="3.2"/>
<circle cx="630.0" cy="665.1" r="19.0" fill="#ff0000"/>
<text x="708" y="684.1" class="lg" font-size="67.5">b</text>
<line x1="566" y1="745.5" x2="696" y2="745.5" stroke="#0000ff" stroke-width="3.2"/>
<polygon points="630.0,720.1 608.0,758.2 652.0,758.2" fill="#0000ff"/>
<text x="708" y="764.5" class="lg" font-size="67.5">c</text>
<line x1="566" y1="825.7" x2="696" y2="825.7" stroke="#008080" stroke-width="3.2"/>
<polygon points="630.0,851.1 608.0,813.0 652.0,813.0" fill="#008080"/>
<text x="708" y="844.7" class="lg" font-size="67.5">d</text>
<line x1="566" y1="906.7" x2="696" y2="906.7" stroke="#ff00ff" stroke-width="3.2"/>
<polygon points="604.6,906.7 642.7,884.7 642.7,928.7" fill="#ff00ff"/>
<text x="708" y="925.7" class="lg" font-size="67.5">e</text>
<line x1="566" y1="986.9" x2="696" y2="986.9" stroke="#808000" stroke-width="3.2"/>
<polygon points="655.4,986.9 617.3,964.9 617.3,1008.9" fill="#808000"/>
<text x="708" y="1005.9" class="lg" font-size="67.5">f</text>
<line x1="566" y1="1067.3" x2="696" y2="1067.3" stroke="#000080" stroke-width="3.2"/>
<polygon points="630.0,1044.8 652.5,1067.3 630.0,1089.8 607.5,1067.3" fill="#000080"/>
<text x="708" y="1086.3" class="lg" font-size="67.5">g</text>
<text x="27.2" y="129.7" class="pl" font-size="93">(a)</text>
<text y="1402.4" class="ax" font-size="75"><tspan x="1041.2" font-style="italic" font-size="78">t</tspan> <tspan x="1084.1">(</tspan><tspan x="1110.6">min)</tspan></text>
<text transform="rotate(-90)" class="ax" font-size="85"><tspan x="-758.0" y="169.6">C</tspan><tspan x="-700.2" y="193.7">t</tspan><tspan x="-673.9" y="169.6">/</tspan><tspan x="-654.8" y="169.6">C</tspan><tspan x="-598.1" y="193.7">0</tspan></text>
</g>
<g id="pb">
<polyline points="405.8,1627.3 706.4,1630.4 806.6,1642.7 906.8,1651.9 1007.0,1658.0 1107.2,1661.1 1207.5,1662.6 1307.7,1667.9 1508.1,1669.1 1708.5,1667.2 1908.9,1667.9" fill="none" stroke="#000000" stroke-width="2.1" stroke-linejoin="round"/>
<rect x="388.8" y="1610.3" width="34.0" height="34.0" fill="#000000"/>
<rect x="689.4" y="1613.4" width="34.0" height="34.0" fill="#000000"/>
<rect x="789.6" y="1625.7" width="34.0" height="34.0" fill="#000000"/>
<rect x="889.8" y="1634.9" width="34.0" height="34.0" fill="#000000"/>
<rect x="990.0" y="1641.0" width="34.0" height="34.0" fill="#000000"/>
<rect x="1090.2" y="1644.1" width="34.0" height="34.0" fill="#000000"/>
<rect x="1190.5" y="1645.6" width="34.0" height="34.0" fill="#000000"/>
<rect x="1290.7" y="1650.9" width="34.0" height="34.0" fill="#000000"/>
<rect x="1491.1" y="1652.1" width="34.0" height="34.0" fill="#000000"/>
<rect x="1691.5" y="1650.2" width="34.0" height="34.0" fill="#000000"/>
<rect x="1891.9" y="1650.9" width="34.0" height="34.0" fill="#000000"/>
<polyline points="405.8,1627.3 706.4,1725.6 806.6,1822.4 906.8,1845.0 1007.0,1861.8 1107.2,1873.1 1207.5,1876.7 1307.7,1883.0 1508.1,1881.4 1708.5,1873.5 1908.9,1873.5" fill="none" stroke="#ff0000" stroke-width="2.1" stroke-linejoin="round"/>
<circle cx="405.8" cy="1627.3" r="19.0" fill="#ff0000"/>
<circle cx="706.4" cy="1725.6" r="19.0" fill="#ff0000"/>
<circle cx="806.6" cy="1822.4" r="19.0" fill="#ff0000"/>
<circle cx="906.8" cy="1845.0" r="19.0" fill="#ff0000"/>
<circle cx="1007.0" cy="1861.8" r="19.0" fill="#ff0000"/>
<circle cx="1107.2" cy="1873.1" r="19.0" fill="#ff0000"/>
<circle cx="1207.5" cy="1876.7" r="19.0" fill="#ff0000"/>
<circle cx="1307.7" cy="1883.0" r="19.0" fill="#ff0000"/>
<circle cx="1508.1" cy="1881.4" r="19.0" fill="#ff0000"/>
<circle cx="1708.5" cy="1873.5" r="19.0" fill="#ff0000"/>
<circle cx="1908.9" cy="1873.5" r="19.0" fill="#ff0000"/>
<polyline points="405.8,1627.3 706.4,1729.4 806.6,1837.7 906.8,1849.3 1007.0,1862.9 1107.2,1877.7 1207.5,1891.0 1307.7,1896.1 1508.1,1905.3 1708.5,1909.2 1908.9,1911.5" fill="none" stroke="#0000ff" stroke-width="2.1" stroke-linejoin="round"/>
<polygon points="405.8,1601.9 383.8,1640.0 427.8,1640.0" fill="#0000ff"/>
<polygon points="706.4,1704.0 684.4,1742.1 728.4,1742.1" fill="#0000ff"/>
<polygon points="806.6,1812.3 784.6,1850.4 828.6,1850.4" fill="#0000ff"/>
<polygon points="906.8,1823.8 884.8,1862.0 928.8,1862.0" fill="#0000ff"/>
<polygon points="1007.0,1837.5 985.0,1875.6 1029.0,1875.6" fill="#0000ff"/>
<polygon points="1107.2,1852.3 1085.2,1890.4 1129.2,1890.4" fill="#0000ff"/>
<polygon points="1207.5,1865.6 1185.5,1903.7 1229.5,1903.7" fill="#0000ff"/>
<polygon points="1307.7,1870.7 1285.7,1908.8 1329.7,1908.8" fill="#0000ff"/>
<polygon points="1508.1,1879.9 1486.1,1918.0 1530.1,1918.0" fill="#0000ff"/>
<polygon points="1708.5,1883.8 1686.5,1921.9 1730.5,1921.9" fill="#0000ff"/>
<polygon points="1908.9,1886.1 1886.9,1924.2 1930.9,1924.2" fill="#0000ff"/>
<polyline points="405.8,1627.3 706.4,1731.7 806.6,1853.1 906.8,1857.9 1007.0,1862.9 1107.2,1878.1 1207.5,1890.6 1307.7,1896.9 1508.1,1914.1 1708.5,1933.0 1908.9,1931.7" fill="none" stroke="#008080" stroke-width="2.1" stroke-linejoin="round"/>
<polygon points="405.8,1652.7 383.8,1614.6 427.8,1614.6" fill="#008080"/>
<polygon points="706.4,1757.2 684.4,1719.0 728.4,1719.0" fill="#008080"/>
<polygon points="806.6,1878.5 784.6,1840.4 828.6,1840.4" fill="#008080"/>
<polygon points="906.8,1883.3 884.8,1845.2 928.8,1845.2" fill="#008080"/>
<polygon points="1007.0,1888.3 985.0,1850.2 1029.0,1850.2" fill="#008080"/>
<polygon points="1107.2,1903.5 1085.2,1865.4 1129.2,1865.4" fill="#008080"/>
<polygon points="1207.5,1916.0 1185.5,1877.9 1229.5,1877.9" fill="#008080"/>
<polygon points="1307.7,1922.3 1285.7,1884.2 1329.7,1884.2" fill="#008080"/>
<polygon points="1508.1,1939.5 1486.1,1901.4 1530.1,1901.4" fill="#008080"/>
<polygon points="1708.5,1958.4 1686.5,1920.3 1730.5,1920.3" fill="#008080"/>
<polygon points="1908.9,1957.1 1886.9,1919.0 1930.9,1919.0" fill="#008080"/>
<polyline points="405.8,1627.3 706.4,1651.6 806.6,1711.8 906.8,1734.8 1007.0,1742.5 1107.2,1731.7 1207.5,1759.4 1307.7,1777.1 1508.1,1787.0 1708.5,1807.0 1908.9,1823.9" fill="none" stroke="#ff00ff" stroke-width="2.1" stroke-linejoin="round"/>
<polygon points="380.4,1627.3 418.5,1605.3 418.5,1649.3" fill="#ff00ff"/>
<polygon points="681.0,1651.6 719.1,1629.6 719.1,1673.6" fill="#ff00ff"/>
<polygon points="781.2,1711.8 819.3,1689.8 819.3,1733.8" fill="#ff00ff"/>
<polygon points="881.4,1734.8 919.5,1712.8 919.5,1756.8" fill="#ff00ff"/>
<polygon points="981.6,1742.5 1019.7,1720.5 1019.7,1764.5" fill="#ff00ff"/>
<polygon points="1081.8,1731.7 1119.9,1709.7 1119.9,1753.7" fill="#ff00ff"/>
<polygon points="1182.0,1759.4 1220.2,1737.4 1220.2,1781.4" fill="#ff00ff"/>
<polygon points="1282.3,1777.1 1320.4,1755.1 1320.4,1799.1" fill="#ff00ff"/>
<polygon points="1482.7,1787.0 1520.8,1765.0 1520.8,1809.0" fill="#ff00ff"/>
<polygon points="1683.1,1807.0 1721.2,1785.0 1721.2,1829.0" fill="#ff00ff"/>
<polygon points="1883.5,1823.9 1921.6,1801.9 1921.6,1845.9" fill="#ff00ff"/>
<polyline points="405.8,1627.3 706.4,1742.0 806.6,1850.0 906.8,1905.8 1007.0,1959.8 1107.2,1987.5 1207.5,2029.7 1307.7,2070.3 1508.1,2091.2 1708.5,2115.0 1908.9,2133.1" fill="none" stroke="#808000" stroke-width="2.1" stroke-linejoin="round"/>
<polygon points="431.2,1627.3 393.1,1605.3 393.1,1649.3" fill="#808000"/>
<polygon points="731.8,1742.0 693.7,1720.0 693.7,1764.0" fill="#808000"/>
<polygon points="832.0,1850.0 793.9,1828.0 793.9,1872.0" fill="#808000"/>
<polygon points="932.2,1905.8 894.1,1883.8 894.1,1927.8" fill="#808000"/>
<polygon points="1032.4,1959.8 994.3,1937.8 994.3,1981.8" fill="#808000"/>
<polygon points="1132.7,1987.5 1094.5,1965.5 1094.5,2009.5" fill="#808000"/>
<polygon points="1232.9,2029.7 1194.8,2007.7 1194.8,2051.7" fill="#808000"/>
<polygon points="1333.1,2070.3 1295.0,2048.3 1295.0,2092.3" fill="#808000"/>
<polygon points="1533.5,2091.2 1495.4,2069.2 1495.4,2113.2" fill="#808000"/>
<polygon points="1733.9,2115.0 1695.8,2093.0 1695.8,2137.0" fill="#808000"/>
<polygon points="1934.3,2133.1 1896.2,2111.1 1896.2,2155.1" fill="#808000"/>
<polyline points="405.8,1627.3 706.4,1746.3 806.6,1888.4 906.8,1974.3 1007.0,2141.9 1107.2,2257.8 1207.5,2427.6 1307.7,2495.4 1508.1,2515.7 1708.5,2530.5 1908.9,2547.4" fill="none" stroke="#000080" stroke-width="2.1" stroke-linejoin="round"/>
<polygon points="405.8,1604.8 428.3,1627.3 405.8,1649.8 383.3,1627.3" fill="#000080"/>
<polygon points="706.4,1723.8 728.9,1746.3 706.4,1768.8 683.9,1746.3" fill="#000080"/>
<polygon points="806.6,1865.9 829.1,1888.4 806.6,1910.9 784.1,1888.4" fill="#000080"/>
<polygon points="906.8,1951.8 929.3,1974.3 906.8,1996.8 884.3,1974.3" fill="#000080"/>
<polygon points="1007.0,2119.4 1029.5,2141.9 1007.0,2164.4 984.5,2141.9" fill="#000080"/>
<polygon points="1107.2,2235.3 1129.7,2257.8 1107.2,2280.3 1084.7,2257.8" fill="#000080"/>
<polygon points="1207.5,2405.1 1230.0,2427.6 1207.5,2450.1 1185.0,2427.6" fill="#000080"/>
<polygon points="1307.7,2472.9 1330.2,2495.4 1307.7,2517.9 1285.2,2495.4" fill="#000080"/>
<polygon points="1508.1,2493.2 1530.6,2515.7 1508.1,2538.2 1485.6,2515.7" fill="#000080"/>
<polygon points="1708.5,2508.0 1731.0,2530.5 1708.5,2553.0 1686.0,2530.5" fill="#000080"/>
<polygon points="1908.9,2524.9 1931.4,2547.4 1908.9,2569.9 1886.4,2547.4" fill="#000080"/>

<rect x="704.7" y="1607.0" width="3.4" height="46.8" fill="#000000"/><rect x="692.9" y="1604.9" width="27.0" height="4.2" fill="#000000"/><rect x="692.9" y="1651.7" width="27.0" height="4.2" fill="#000000"/>
<rect x="804.9" y="1617.7" width="3.4" height="50.0" fill="#000000"/><rect x="793.1" y="1615.6" width="27.0" height="4.2" fill="#000000"/><rect x="793.1" y="1665.6" width="27.0" height="4.2" fill="#000000"/>
<rect x="905.1" y="1627.9" width="3.4" height="48.0" fill="#000000"/><rect x="893.3" y="1625.8" width="27.0" height="4.2" fill="#000000"/><rect x="893.3" y="1673.8" width="27.0" height="4.2" fill="#000000"/>
<rect x="1005.3" y="1635.0" width="3.4" height="46.0" fill="#000000"/><rect x="993.5" y="1632.9" width="27.0" height="4.2" fill="#000000"/><rect x="993.5" y="1678.9" width="27.0" height="4.2" fill="#000000"/>
<rect x="1105.5" y="1638.1" width="3.4" height="46.0" fill="#000000"/><rect x="1093.7" y="1636.0" width="27.0" height="4.2" fill="#000000"/><rect x="1093.7" y="1682.0" width="27.0" height="4.2" fill="#000000"/>
<rect x="1205.8" y="1642.6" width="3.4" height="40.0" fill="#000000"/><rect x="1194.0" y="1640.5" width="27.0" height="4.2" fill="#000000"/><rect x="1194.0" y="1680.5" width="27.0" height="4.2" fill="#000000"/>
<rect x="1306.0" y="1647.9" width="3.4" height="40.0" fill="#000000"/><rect x="1294.2" y="1645.8" width="27.0" height="4.2" fill="#000000"/><rect x="1294.2" y="1685.8" width="27.0" height="4.2" fill="#000000"/>
<rect x="1506.4" y="1642.1" width="3.4" height="54.0" fill="#000000"/><rect x="1494.6" y="1640.0" width="27.0" height="4.2" fill="#000000"/><rect x="1494.6" y="1694.0" width="27.0" height="4.2" fill="#000000"/>
<rect x="1706.8" y="1641.2" width="3.4" height="52.0" fill="#000000"/><rect x="1695.0" y="1639.1" width="27.0" height="4.2" fill="#000000"/><rect x="1695.0" y="1691.1" width="27.0" height="4.2" fill="#000000"/>
<rect x="1907.2" y="1652.9" width="3.4" height="30.0" fill="#000000"/><rect x="1895.4" y="1650.8" width="27.0" height="4.2" fill="#000000"/><rect x="1895.4" y="1680.8" width="27.0" height="4.2" fill="#000000"/>

<rect x="704.7" y="1705.6" width="3.4" height="40.0" fill="#ff0000"/><rect x="692.9" y="1703.5" width="27.0" height="4.2" fill="#ff0000"/><rect x="692.9" y="1743.5" width="27.0" height="4.2" fill="#ff0000"/>
<rect x="804.9" y="1797.9" width="3.4" height="49.0" fill="#ff0000"/><rect x="793.1" y="1795.8" width="27.0" height="4.2" fill="#ff0000"/><rect x="793.1" y="1844.8" width="27.0" height="4.2" fill="#ff0000"/>
<rect x="905.1" y="1825.0" width="3.4" height="40.0" fill="#ff0000"/><rect x="893.3" y="1822.9" width="27.0" height="4.2" fill="#ff0000"/><rect x="893.3" y="1862.9" width="27.0" height="4.2" fill="#ff0000"/>
<rect x="1005.3" y="1841.8" width="3.4" height="40.0" fill="#ff0000"/><rect x="993.5" y="1839.7" width="27.0" height="4.2" fill="#ff0000"/><rect x="993.5" y="1879.7" width="27.0" height="4.2" fill="#ff0000"/>
<rect x="1105.5" y="1853.1" width="3.4" height="40.0" fill="#ff0000"/><rect x="1093.7" y="1851.0" width="27.0" height="4.2" fill="#ff0000"/><rect x="1093.7" y="1891.0" width="27.0" height="4.2" fill="#ff0000"/>
<rect x="1205.8" y="1856.7" width="3.4" height="40.0" fill="#ff0000"/><rect x="1194.0" y="1854.6" width="27.0" height="4.2" fill="#ff0000"/><rect x="1194.0" y="1894.6" width="27.0" height="4.2" fill="#ff0000"/>
<rect x="1306.0" y="1863.0" width="3.4" height="40.0" fill="#ff0000"/><rect x="1294.2" y="1860.9" width="27.0" height="4.2" fill="#ff0000"/><rect x="1294.2" y="1900.9" width="27.0" height="4.2" fill="#ff0000"/>
<rect x="1506.4" y="1859.4" width="3.4" height="44.0" fill="#ff0000"/><rect x="1494.6" y="1857.3" width="27.0" height="4.2" fill="#ff0000"/><rect x="1494.6" y="1901.3" width="27.0" height="4.2" fill="#ff0000"/>
<rect x="1706.8" y="1853.5" width="3.4" height="40.0" fill="#ff0000"/><rect x="1695.0" y="1851.4" width="27.0" height="4.2" fill="#ff0000"/><rect x="1695.0" y="1891.4" width="27.0" height="4.2" fill="#ff0000"/>
<rect x="1907.2" y="1855.5" width="3.4" height="36.0" fill="#ff0000"/><rect x="1895.4" y="1853.4" width="27.0" height="4.2" fill="#ff0000"/><rect x="1895.4" y="1889.4" width="27.0" height="4.2" fill="#ff0000"/>

<rect x="704.7" y="1698.4" width="3.4" height="62.0" fill="#0000ff"/><rect x="692.9" y="1696.3" width="27.0" height="4.2" fill="#0000ff"/><rect x="692.9" y="1758.3" width="27.0" height="4.2" fill="#0000ff"/>
<rect x="804.9" y="1817.7" width="3.4" height="40.0" fill="#0000ff"/><rect x="793.1" y="1815.6" width="27.0" height="4.2" fill="#0000ff"/><rect x="793.1" y="1855.6" width="27.0" height="4.2" fill="#0000ff"/>
<rect x="905.1" y="1819.3" width="3.4" height="60.0" fill="#0000ff"/><rect x="893.3" y="1817.2" width="27.0" height="4.2" fill="#0000ff"/><rect x="893.3" y="1877.2" width="27.0" height="4.2" fill="#0000ff"/>
<rect x="1005.3" y="1830.9" width="3.4" height="64.0" fill="#0000ff"/><rect x="993.5" y="1828.8" width="27.0" height="4.2" fill="#0000ff"/><rect x="993.5" y="1892.8" width="27.0" height="4.2" fill="#0000ff"/>
<rect x="1105.5" y="1844.7" width="3.4" height="66.0" fill="#0000ff"/><rect x="1093.7" y="1842.6" width="27.0" height="4.2" fill="#0000ff"/><rect x="1093.7" y="1908.6" width="27.0" height="4.2" fill="#0000ff"/>
<rect x="1205.8" y="1854.0" width="3.4" height="74.0" fill="#0000ff"/><rect x="1194.0" y="1851.9" width="27.0" height="4.2" fill="#0000ff"/><rect x="1194.0" y="1925.9" width="27.0" height="4.2" fill="#0000ff"/>
<rect x="1306.0" y="1857.4" width="3.4" height="77.4" fill="#0000ff"/><rect x="1294.2" y="1855.3" width="27.0" height="4.2" fill="#0000ff"/><rect x="1294.2" y="1932.7" width="27.0" height="4.2" fill="#0000ff"/>
<rect x="1506.4" y="1891.3" width="3.4" height="28.0" fill="#0000ff"/><rect x="1494.6" y="1889.2" width="27.0" height="4.2" fill="#0000ff"/><rect x="1494.6" y="1917.2" width="27.0" height="4.2" fill="#0000ff"/>
<rect x="1706.8" y="1896.2" width="3.4" height="26.0" fill="#0000ff"/><rect x="1695.0" y="1894.1" width="27.0" height="4.2" fill="#0000ff"/><rect x="1695.0" y="1920.1" width="27.0" height="4.2" fill="#0000ff"/>
<rect x="1907.2" y="1899.5" width="3.4" height="24.0" fill="#0000ff"/><rect x="1895.4" y="1897.4" width="27.0" height="4.2" fill="#0000ff"/><rect x="1895.4" y="1921.4" width="27.0" height="4.2" fill="#0000ff"/>

<rect x="704.7" y="1706.7" width="3.4" height="50.0" fill="#008080"/><rect x="692.9" y="1704.6" width="27.0" height="4.2" fill="#008080"/><rect x="692.9" y="1754.6" width="27.0" height="4.2" fill="#008080"/>
<rect x="804.9" y="1823.1" width="3.4" height="60.0" fill="#008080"/><rect x="793.1" y="1821.0" width="27.0" height="4.2" fill="#008080"/><rect x="793.1" y="1881.0" width="27.0" height="4.2" fill="#008080"/>
<rect x="905.1" y="1827.9" width="3.4" height="60.0" fill="#008080"/><rect x="893.3" y="1825.8" width="27.0" height="4.2" fill="#008080"/><rect x="893.3" y="1885.8" width="27.0" height="4.2" fill="#008080"/>
<rect x="1005.3" y="1817.9" width="3.4" height="90.0" fill="#008080"/><rect x="993.5" y="1815.8" width="27.0" height="4.2" fill="#008080"/><rect x="993.5" y="1905.8" width="27.0" height="4.2" fill="#008080"/>
<rect x="1105.5" y="1845.1" width="3.4" height="66.0" fill="#008080"/><rect x="1093.7" y="1843.0" width="27.0" height="4.2" fill="#008080"/><rect x="1093.7" y="1909.0" width="27.0" height="4.2" fill="#008080"/>
<rect x="1205.8" y="1854.8" width="3.4" height="71.6" fill="#008080"/><rect x="1194.0" y="1852.7" width="27.0" height="4.2" fill="#008080"/><rect x="1194.0" y="1924.3" width="27.0" height="4.2" fill="#008080"/>
<rect x="1306.0" y="1864.9" width="3.4" height="64.0" fill="#008080"/><rect x="1294.2" y="1862.8" width="27.0" height="4.2" fill="#008080"/><rect x="1294.2" y="1926.8" width="27.0" height="4.2" fill="#008080"/>
<rect x="1506.4" y="1886.1" width="3.4" height="56.0" fill="#008080"/><rect x="1494.6" y="1884.0" width="27.0" height="4.2" fill="#008080"/><rect x="1494.6" y="1940.0" width="27.0" height="4.2" fill="#008080"/>
<rect x="1706.8" y="1906.4" width="3.4" height="53.2" fill="#008080"/><rect x="1695.0" y="1904.3" width="27.0" height="4.2" fill="#008080"/><rect x="1695.0" y="1957.5" width="27.0" height="4.2" fill="#008080"/>
<rect x="1907.2" y="1906.7" width="3.4" height="50.0" fill="#008080"/><rect x="1895.4" y="1904.6" width="27.0" height="4.2" fill="#008080"/><rect x="1895.4" y="1954.6" width="27.0" height="4.2" fill="#008080"/>

<rect x="704.7" y="1625.6" width="3.4" height="52.0" fill="#ff00ff"/><rect x="692.9" y="1623.5" width="27.0" height="4.2" fill="#ff00ff"/><rect x="692.9" y="1675.5" width="27.0" height="4.2" fill="#ff00ff"/>
<rect x="804.9" y="1684.8" width="3.4" height="54.0" fill="#ff00ff"/><rect x="793.1" y="1682.7" width="27.0" height="4.2" fill="#ff00ff"/><rect x="793.1" y="1736.7" width="27.0" height="4.2" fill="#ff00ff"/>
<rect x="905.1" y="1710.8" width="3.4" height="48.0" fill="#ff00ff"/><rect x="893.3" y="1708.7" width="27.0" height="4.2" fill="#ff00ff"/><rect x="893.3" y="1756.7" width="27.0" height="4.2" fill="#ff00ff"/>
<rect x="1005.3" y="1711.5" width="3.4" height="62.0" fill="#ff00ff"/><rect x="993.5" y="1709.4" width="27.0" height="4.2" fill="#ff00ff"/><rect x="993.5" y="1771.4" width="27.0" height="4.2" fill="#ff00ff"/>
<rect x="1105.5" y="1702.7" width="3.4" height="58.0" fill="#ff00ff"/><rect x="1093.7" y="1700.6" width="27.0" height="4.2" fill="#ff00ff"/><rect x="1093.7" y="1758.6" width="27.0" height="4.2" fill="#ff00ff"/>
<rect x="1205.8" y="1728.4" width="3.4" height="62.0" fill="#ff00ff"/><rect x="1194.0" y="1726.3" width="27.0" height="4.2" fill="#ff00ff"/><rect x="1194.0" y="1788.3" width="27.0" height="4.2" fill="#ff00ff"/>
<rect x="1306.0" y="1750.1" width="3.4" height="54.0" fill="#ff00ff"/><rect x="1294.2" y="1748.0" width="27.0" height="4.2" fill="#ff00ff"/><rect x="1294.2" y="1802.0" width="27.0" height="4.2" fill="#ff00ff"/>
<rect x="1506.4" y="1759.0" width="3.4" height="56.0" fill="#ff00ff"/><rect x="1494.6" y="1756.9" width="27.0" height="4.2" fill="#ff00ff"/><rect x="1494.6" y="1812.9" width="27.0" height="4.2" fill="#ff00ff"/>
<rect x="1706.8" y="1779.0" width="3.4" height="56.0" fill="#ff00ff"/><rect x="1695.0" y="1776.9" width="27.0" height="4.2" fill="#ff00ff"/><rect x="1695.0" y="1832.9" width="27.0" height="4.2" fill="#ff00ff"/>
<rect x="1907.2" y="1796.9" width="3.4" height="54.0" fill="#ff00ff"/><rect x="1895.4" y="1794.8" width="27.0" height="4.2" fill="#ff00ff"/><rect x="1895.4" y="1848.8" width="27.0" height="4.2" fill="#ff00ff"/>

<rect x="704.7" y="1715.0" width="3.4" height="54.0" fill="#808000"/><rect x="692.9" y="1712.9" width="27.0" height="4.2" fill="#808000"/><rect x="692.9" y="1766.9" width="27.0" height="4.2" fill="#808000"/>
<rect x="804.9" y="1822.0" width="3.4" height="56.0" fill="#808000"/><rect x="793.1" y="1819.9" width="27.0" height="4.2" fill="#808000"/><rect x="793.1" y="1875.9" width="27.0" height="4.2" fill="#808000"/>
<rect x="905.1" y="1873.8" width="3.4" height="64.0" fill="#808000"/><rect x="893.3" y="1871.7" width="27.0" height="4.2" fill="#808000"/><rect x="893.3" y="1935.7" width="27.0" height="4.2" fill="#808000"/>
<rect x="1005.3" y="1928.3" width="3.4" height="63.0" fill="#808000"/><rect x="993.5" y="1926.2" width="27.0" height="4.2" fill="#808000"/><rect x="993.5" y="1989.2" width="27.0" height="4.2" fill="#808000"/>
<rect x="1105.5" y="1954.5" width="3.4" height="66.0" fill="#808000"/><rect x="1093.7" y="1952.4" width="27.0" height="4.2" fill="#808000"/><rect x="1093.7" y="2018.4" width="27.0" height="4.2" fill="#808000"/>
<rect x="1205.8" y="1997.7" width="3.4" height="64.0" fill="#808000"/><rect x="1194.0" y="1995.6" width="27.0" height="4.2" fill="#808000"/><rect x="1194.0" y="2059.6" width="27.0" height="4.2" fill="#808000"/>
<rect x="1306.0" y="2038.3" width="3.4" height="64.0" fill="#808000"/><rect x="1294.2" y="2036.2" width="27.0" height="4.2" fill="#808000"/><rect x="1294.2" y="2100.2" width="27.0" height="4.2" fill="#808000"/>
<rect x="1506.4" y="2059.2" width="3.4" height="64.0" fill="#808000"/><rect x="1494.6" y="2057.1" width="27.0" height="4.2" fill="#808000"/><rect x="1494.6" y="2121.1" width="27.0" height="4.2" fill="#808000"/>
<rect x="1706.8" y="2081.0" width="3.4" height="68.0" fill="#808000"/><rect x="1695.0" y="2078.9" width="27.0" height="4.2" fill="#808000"/><rect x="1695.0" y="2146.9" width="27.0" height="4.2" fill="#808000"/>
<rect x="1907.2" y="2097.1" width="3.4" height="72.0" fill="#808000"/><rect x="1895.4" y="2095.0" width="27.0" height="4.2" fill="#808000"/><rect x="1895.4" y="2167.0" width="27.0" height="4.2" fill="#808000"/>

<rect x="704.7" y="1714.8" width="3.4" height="63.0" fill="#000080"/><rect x="692.9" y="1712.7" width="27.0" height="4.2" fill="#000080"/><rect x="692.9" y="1775.7" width="27.0" height="4.2" fill="#000080"/>
<rect x="804.9" y="1855.8" width="3.4" height="65.2" fill="#000080"/><rect x="793.1" y="1853.7" width="27.0" height="4.2" fill="#000080"/><rect x="793.1" y="1918.9" width="27.0" height="4.2" fill="#000080"/>
<rect x="905.1" y="1940.8" width="3.4" height="67.0" fill="#000080"/><rect x="893.3" y="1938.7" width="27.0" height="4.2" fill="#000080"/><rect x="893.3" y="2005.7" width="27.0" height="4.2" fill="#000080"/>
<rect x="1005.3" y="2110.9" width="3.4" height="62.0" fill="#000080"/><rect x="993.5" y="2108.8" width="27.0" height="4.2" fill="#000080"/><rect x="993.5" y="2170.8" width="27.0" height="4.2" fill="#000080"/>
<rect x="1105.5" y="2223.8" width="3.4" height="68.0" fill="#000080"/><rect x="1093.7" y="2221.7" width="27.0" height="4.2" fill="#000080"/><rect x="1093.7" y="2289.7" width="27.0" height="4.2" fill="#000080"/>
<rect x="1205.8" y="2395.6" width="3.4" height="64.0" fill="#000080"/><rect x="1194.0" y="2393.5" width="27.0" height="4.2" fill="#000080"/><rect x="1194.0" y="2457.5" width="27.0" height="4.2" fill="#000080"/>
<rect x="1306.0" y="2461.4" width="3.4" height="68.0" fill="#000080"/><rect x="1294.2" y="2459.3" width="27.0" height="4.2" fill="#000080"/><rect x="1294.2" y="2527.3" width="27.0" height="4.2" fill="#000080"/>
<rect x="1506.4" y="2482.7" width="3.4" height="66.0" fill="#000080"/><rect x="1494.6" y="2480.6" width="27.0" height="4.2" fill="#000080"/><rect x="1494.6" y="2546.6" width="27.0" height="4.2" fill="#000080"/>
<rect x="1706.8" y="2492.5" width="3.4" height="76.0" fill="#000080"/><rect x="1695.0" y="2490.4" width="27.0" height="4.2" fill="#000080"/><rect x="1695.0" y="2566.4" width="27.0" height="4.2" fill="#000080"/>
<rect x="1907.2" y="2515.4" width="3.4" height="64.0" fill="#000080"/><rect x="1895.4" y="2513.3" width="27.0" height="4.2" fill="#000080"/><rect x="1895.4" y="2577.3" width="27.0" height="4.2" fill="#000080"/>
<rect x="355.7" y="1550.5" width="1603.3" height="1152.0" fill="none" stroke="#000" stroke-width="5.0"/>
<rect x="403.8" y="2678.0" width="4.0" height="24.5" fill="#000"/><rect x="554.1" y="2678.0" width="4.0" height="24.5" fill="#000"/><rect x="704.4" y="2678.0" width="4.0" height="24.5" fill="#000"/><rect x="854.7" y="2678.0" width="4.0" height="24.5" fill="#000"/><rect x="1005.0" y="2678.0" width="4.0" height="24.5" fill="#000"/><rect x="1155.3" y="2678.0" width="4.0" height="24.5" fill="#000"/><rect x="1305.7" y="2678.0" width="4.0" height="24.5" fill="#000"/><rect x="1456.0" y="2678.0" width="4.0" height="24.5" fill="#000"/><rect x="1606.3" y="2678.0" width="4.0" height="24.5" fill="#000"/><rect x="1756.6" y="2678.0" width="4.0" height="24.5" fill="#000"/><rect x="1906.9" y="2678.0" width="4.0" height="24.5" fill="#000"/><rect x="479.0" y="2689.5" width="4.0" height="13" fill="#000"/><rect x="629.3" y="2689.5" width="4.0" height="13" fill="#000"/><rect x="779.6" y="2689.5" width="4.0" height="13" fill="#000"/><rect x="929.9" y="2689.5" width="4.0" height="13" fill="#000"/><rect x="1080.2" y="2689.5" width="4.0" height="13" fill="#000"/><rect x="1230.5" y="2689.5" width="4.0" height="13" fill="#000"/><rect x="1380.8" y="2689.5" width="4.0" height="13" fill="#000"/><rect x="1531.1" y="2689.5" width="4.0" height="13" fill="#000"/><rect x="1681.4" y="2689.5" width="4.0" height="13" fill="#000"/><rect x="1831.7" y="2689.5" width="4.0" height="13" fill="#000"/>
<rect x="355.7" y="2700.5" width="24.5" height="4.0" fill="#000"/><rect x="355.7" y="2546.9" width="24.5" height="4.0" fill="#000"/><rect x="355.7" y="2393.3" width="24.5" height="4.0" fill="#000"/><rect x="355.7" y="2239.7" width="24.5" height="4.0" fill="#000"/><rect x="355.7" y="2086.1" width="24.5" height="4.0" fill="#000"/><rect x="355.7" y="1932.5" width="24.5" height="4.0" fill="#000"/><rect x="355.7" y="1778.9" width="24.5" height="4.0" fill="#000"/><rect x="355.7" y="1625.3" width="24.5" height="4.0" fill="#000"/><rect x="355.7" y="2623.7" width="13" height="4.0" fill="#000"/><rect x="355.7" y="2470.1" width="13" height="4.0" fill="#000"/><rect x="355.7" y="2316.5" width="13" height="4.0" fill="#000"/><rect x="355.7" y="2162.9" width="13" height="4.0" fill="#000"/><rect x="355.7" y="2009.3" width="13" height="4.0" fill="#000"/><rect x="355.7" y="1855.7" width="13" height="4.0" fill="#000"/><rect x="355.7" y="1702.1" width="13" height="4.0" fill="#000"/>
<text x="405.8" y="2774.9" class="tk" font-size="64" text-anchor="middle">-30</text>
<text x="556.1" y="2774.9" class="tk" font-size="64" text-anchor="middle">-15</text>
<text x="706.4" y="2774.9" class="tk" font-size="64" text-anchor="middle">0</text>
<text x="856.7" y="2774.9" class="tk" font-size="64" text-anchor="middle">15</text>
<text x="1007.0" y="2774.9" class="tk" font-size="64" text-anchor="middle">30</text>
<text x="1157.3" y="2774.9" class="tk" font-size="64" text-anchor="middle">45</text>
<text x="1307.7" y="2774.9" class="tk" font-size="64" text-anchor="middle">60</text>
<text x="1458.0" y="2774.9" class="tk" font-size="64" text-anchor="middle">75</text>
<text x="1608.3" y="2774.9" class="tk" font-size="64" text-anchor="middle">90</text>
<text x="1758.6" y="2774.9" class="tk" font-size="64" text-anchor="middle">105</text>
<text x="1908.9" y="2774.9" class="tk" font-size="64" text-anchor="middle">120</text>
<text x="332" y="2720.3" class="tk" text-anchor="end">0.3</text>
<text x="332" y="2566.7" class="tk" text-anchor="end">0.4</text>
<text x="332" y="2413.1" class="tk" text-anchor="end">0.5</text>
<text x="332" y="2259.5" class="tk" text-anchor="end">0.6</text>
<text x="332" y="2105.9" class="tk" text-anchor="end">0.7</text>
<text x="332" y="1952.3" class="tk" text-anchor="end">0.8</text>
<text x="332" y="1798.7" class="tk" text-anchor="end">0.9</text>
<text x="332" y="1645.1" class="tk" text-anchor="end">1.0</text>
<line x1="539" y1="2079" x2="677" y2="2079" stroke="#000000" stroke-width="2.4"/>
<rect x="590.6" y="2062.0" width="34.0" height="34.0" fill="#000000"/>
<text x="691.7" y="2098.2" class="lg" font-size="60">a</text>
<line x1="539" y1="2153.4" x2="677" y2="2153.4" stroke="#ff0000" stroke-width="2.4"/>
<circle cx="607.6" cy="2153.4" r="19.0" fill="#ff0000"/>
<text x="691.7" y="2172.6" class="lg" font-size="60">b</text>
<line x1="539" y1="2226.3" x2="677" y2="2226.3" stroke="#0000ff" stroke-width="2.4"/>
<polygon points="607.6,2200.9 585.6,2239.0 629.6,2239.0" fill="#0000ff"/>
<text x="691.7" y="2245.5" class="lg" font-size="60">c</text>
<line x1="539" y1="2299.3" x2="677" y2="2299.3" stroke="#008080" stroke-width="2.4"/>
<polygon points="607.6,2324.7 585.6,2286.6 629.6,2286.6" fill="#008080"/>
<text x="691.7" y="2318.5" class="lg" font-size="60">d</text>
<line x1="539" y1="2372.8" x2="677" y2="2372.8" stroke="#ff00ff" stroke-width="2.4"/>
<polygon points="582.2,2372.8 620.3,2350.8 620.3,2394.8" fill="#ff00ff"/>
<text x="691.7" y="2392.0" class="lg" font-size="60">e</text>
<line x1="539" y1="2446" x2="677" y2="2446" stroke="#808000" stroke-width="2.4"/>
<polygon points="633.0,2446.0 594.9,2424.0 594.9,2468.0" fill="#808000"/>
<text x="691.7" y="2465.2" class="lg" font-size="60">f</text>
<line x1="539" y1="2519.6" x2="677" y2="2519.6" stroke="#000080" stroke-width="2.4"/>
<polygon points="607.6,2497.1 630.1,2519.6 607.6,2542.1 585.1,2519.6" fill="#000080"/>
<text x="691.7" y="2538.8" class="lg" font-size="60">g</text>
<text x="38.5" y="1632" class="pl" font-size="91">(b)</text>
<text y="2880.5" class="ax" font-size="64"><tspan x="1062.6" font-style="italic" font-size="67">t</tspan> <tspan x="1097.7">(</tspan><tspan x="1121.7">min)</tspan></text>
<text transform="rotate(-90)" class="ax" font-size="70"><tspan x="-2313.0" y="154">T</tspan><tspan x="-2271.4" y="154">O</tspan><tspan x="-2219.4" y="154">C</tspan><tspan x="-2171.9" y="177">t</tspan><tspan x="-2148.6" y="154">/</tspan><tspan x="-2130.9" y="154">T</tspan><tspan x="-2089.7" y="154">O</tspan><tspan x="-2038.9" y="154">C</tspan><tspan x="-1992.6" y="177">0</tspan></text>
</g>
</g>
</svg>
</body></html>
